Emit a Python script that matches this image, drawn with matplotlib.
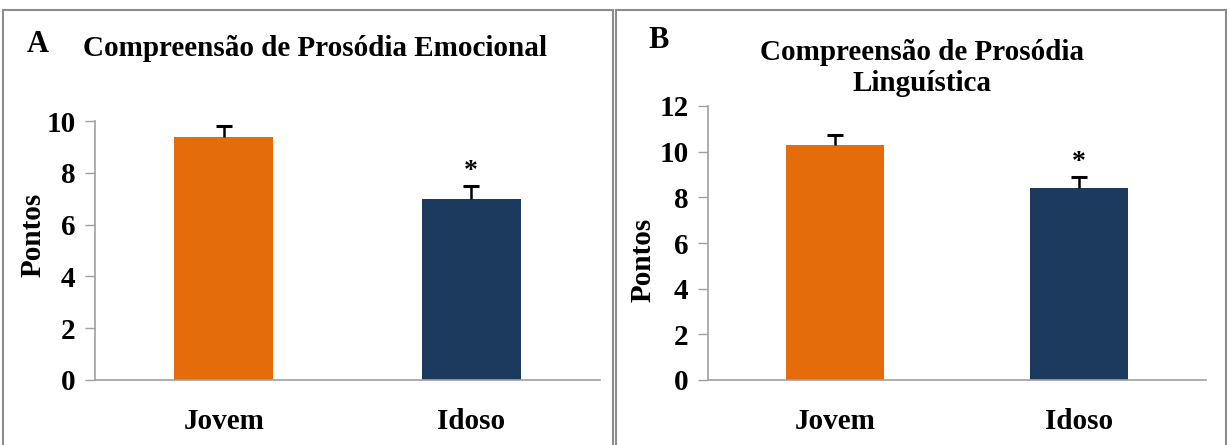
import matplotlib.pyplot as plt
from matplotlib.patches import Rectangle

# group scores (mean + upper error) for the two prosody tasks
groups = ["Jovem", "Idoso"]
emocional_mean = [9.4, 7.0]
emocional_err = [0.4, 0.5]
linguistica_mean = [10.3, 8.4]
linguistica_err = [0.45, 0.5]
bar_colors = ["#E46C0A", "#1B3A5E"]

plt.rcParams['font.family'] = ['Liberation Serif', 'DejaVu Serif']
plt.rcParams['font.weight'] = 'bold'

FS = 21

fig = plt.figure(figsize=(12.3, 4.45), dpi=100)

# panel frames
for x0 in (3 / 1230, 616 / 1230):
    fig.patches.append(Rectangle((x0, -0.05), 610 / 1230, 1.05 - 10 / 445,
                                 transform=fig.transFigure, fill=False,
                                 edgecolor="#8c8c8c", linewidth=1.5))


def draw_panel(ax, means, errs, ymax, label_xy):
    x = list(range(len(groups)))
    tops = [m + e for m, e in zip(means, errs)]
    ax.bar(x, means, width=0.4, color=bar_colors, zorder=2)
    # upper-only error bars: stem + cap
    ax.errorbar(x, means, yerr=[[0] * len(errs), errs], fmt="none",
                ecolor="black", elinewidth=1.8, capsize=0, zorder=3)
    ax.plot(x, tops, ls="none", marker="_", ms=11, mew=2.2, color="black", zorder=3)
    ax.text(1, tops[1] + ymax * 0.005, "*", ha="center", va="bottom",
            fontsize=20, fontweight="bold")
    ax.set_xlim(-0.52, 1.52)
    ax.set_ylim(0, ymax)
    ax.set_yticks(range(0, ymax + 1, 2))
    ax.set_xticks(x)
    ax.set_xticklabels(groups, fontsize=FS, fontweight="bold")
    ax.tick_params(axis="x", length=0, pad=20)
    ax.tick_params(axis="y", length=7, width=1, color="#a0a0a0", labelsize=FS, pad=7)
    for lab in ax.get_yticklabels():
        lab.set_fontweight("bold")
    for s in ("top", "right"):
        ax.spines[s].set_visible(False)
    for s in ("left", "bottom"):
        ax.spines[s].set_color("#a0a0a0")
        ax.spines[s].set_linewidth(1.2)
    ax.set_ylabel("Pontos", fontsize=FS, fontweight="bold")
    ax.yaxis.set_label_coords(*label_xy)
    return ax


ax1 = fig.add_axes([95 / 1230, 65 / 445, 505 / 1230, 259 / 445])
draw_panel(ax1, emocional_mean, emocional_err, 10, (-0.096, 0.56))
ax2 = fig.add_axes([708 / 1230, 65 / 445, 498 / 1230, 274 / 445])
draw_panel(ax2, linguistica_mean, linguistica_err, 12, (-0.104, 0.438))

fig.text(315 / 1230, 1 - 48 / 445, "Compreensão de Prosódia Emocional",
         ha="center", va="center", fontsize=FS, fontweight="bold")
fig.text(922 / 1230, 1 - 68 / 445, "Compreensão de Prosódia\nLinguística",
         ha="center", va="center", fontsize=FS, fontweight="bold", linespacing=1.22)
fig.text(38 / 1230, 1 - 45 / 445, "A", ha="center", va="center",
         fontsize=FS + 1, fontweight="bold")
fig.text(659 / 1230, 1 - 40 / 445, "B", ha="center", va="center",
         fontsize=FS + 1, fontweight="bold")

fig.savefig("out.png", dpi=100)
